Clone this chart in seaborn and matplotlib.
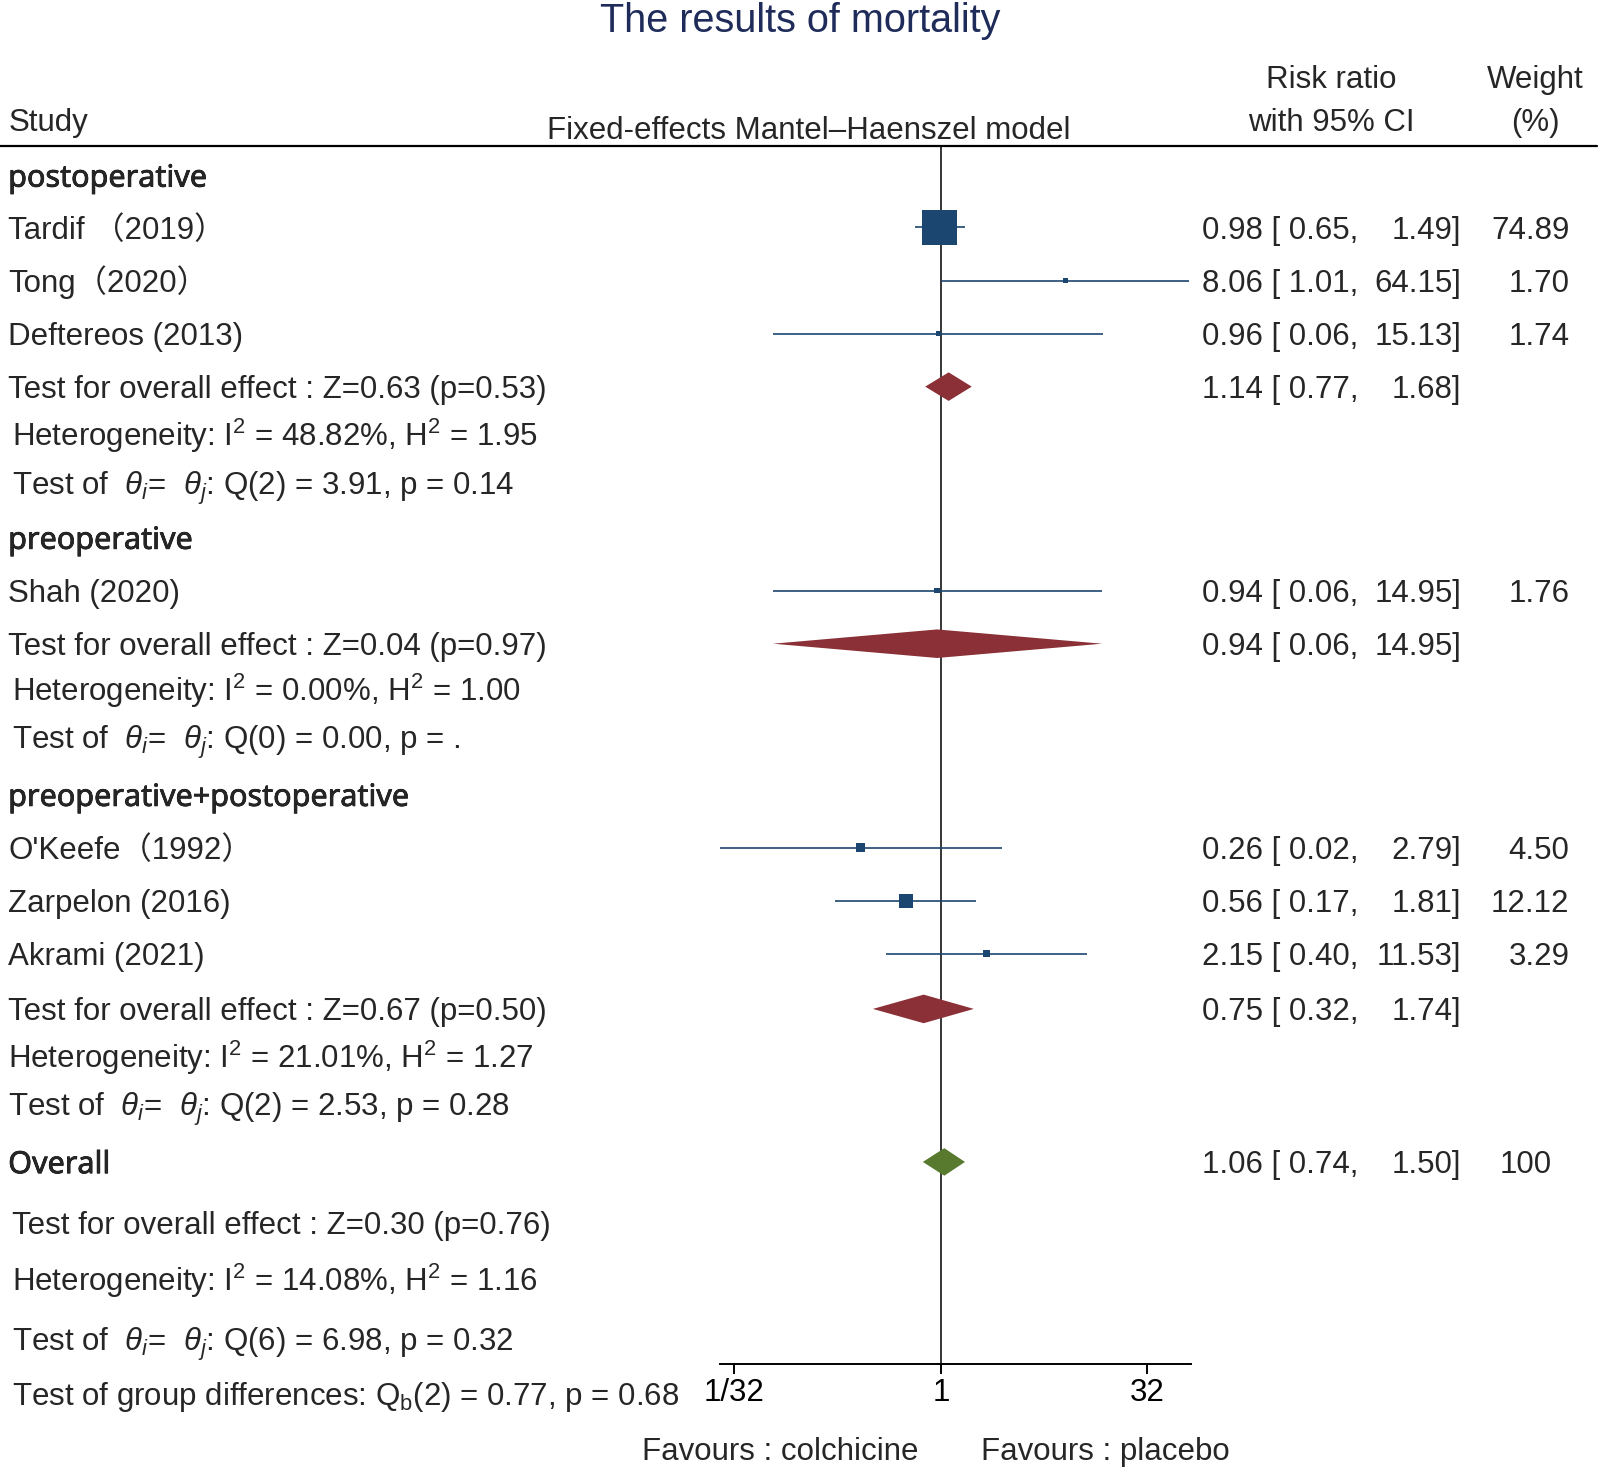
import numpy as np
import pandas as pd
import matplotlib
matplotlib.use("Agg")
import matplotlib.pyplot as plt
import matplotlib.patheffects as pe
import seaborn as sns
from matplotlib import transforms
from matplotlib.ticker import NullLocator, FixedLocator, FixedFormatter

sns.set_style("white")
plt.rcParams["font.family"] = ["Liberation Sans", "Noto Sans CJK SC", "DejaVu Sans"]
plt.rcParams["mathtext.fontset"] = "custom"
plt.rcParams["mathtext.rm"] = "Liberation Sans"
plt.rcParams["mathtext.it"] = "Liberation Sans:italic"
plt.rcParams["mathtext.default"] = "regular"

# ---------------- data ----------------
study_names = ["Tardif \uff082019\uff09", "Tong\uff082020\uff09", "Deftereos (2013)",
               "Shah (2020)",
               "O'Keefe\uff081992\uff09", "Zarpelon (2016)", "Akrami (2021)"]
study_rr = [0.98, 8.06, 0.96, 0.94, 0.26, 0.56, 2.15]
study_lo = [0.65, 1.01, 0.06, 0.06, 0.02, 0.17, 0.40]
study_hi = [1.49, 64.15, 15.13, 14.95, 2.79, 1.81, 11.53]
study_weight = [74.89, 1.70, 1.74, 1.76, 4.50, 12.12, 3.29]

group_names = ["postoperative", "preoperative", "preoperative+postoperative"]
group_rr = [1.14, 0.94, 0.75]
group_lo = [0.77, 0.06, 0.32]
group_hi = [1.68, 14.95, 1.74]
group_z = ["0.63", "0.04", "0.67"]
group_zp = ["0.53", "0.97", "0.50"]
group_i2 = ["48.82", "0.00", "21.01"]
group_h2 = ["1.95", "1.00", "1.27"]
group_qdf = ["2", "0", "2"]
group_q = ["3.91", "0.00", "2.53"]
group_qp = ["0.14", ".", "0.28"]

overall_rr, overall_lo, overall_hi = 1.06, 0.74, 1.50
overall_weight = "100"
overall_z, overall_zp = "0.30", "0.76"
overall_i2, overall_h2 = "14.08", "1.16"
overall_qdf, overall_q, overall_qp = "6", "6.98", "0.32"
qb_df, qb, qb_p = "2", "0.77", "0.68"

tick_values = [1 / 32, 1, 32]
tick_labels = ["1/32", "1", "32"]

# ---------------- layout (reference pixel grid 1568 x 1440) ----------------
W, H = 1568.0, 1440.0
X0, PPU = 922.0, 40.5          # pixel of RR=1, pixels per log2 unit
AX_L, AX_R = 706.0, 1167.0     # extent of the plotted x axis
study_y = [223, 275, 327, 579, 831, 883, 935]
head_y = [172, 527, 779]
gtest_y = [379, 631, 989]
ghet_y = [426, 676, 1036]
gth_y = [474, 723, 1083]
ghet_x = [12, 12, 8]
gth_x = [12, 12, 8]

FS = 22.5
NAVY = "#1b4670"
RED = "#8a3036"
GREEN = "#587a2e"

fig = plt.figure(figsize=(16, 14.69), dpi=100)
ax = fig.add_axes([0, 0, 1, 1])
ax.set_xscale("log", base=2)
XLIM = (2 ** (-X0 / PPU), 2 ** ((W - X0) / PPU))
RR_MIN, RR_MAX = 2 ** ((AX_L - X0) / PPU), 2 ** ((AX_R - X0) / PPU)
tr = transforms.blended_transform_factory(ax.transAxes, ax.transData)


def txt(x, y, s, ha="left", **kw):
    kw.setdefault("fontsize", FS)
    ax.text(x / W, y + 11, s, ha=ha, va="baseline", transform=tr, **kw)


def ci_text(y, est, lo, hi):
    txt(1178, y, f"{est:.2f} [ {lo:.2f},")
    txt(1432, y, f"{hi:.2f}]", ha="right")


# study CIs and squares
df = pd.DataFrame({"rr": study_rr, "lo": study_lo, "hi": study_hi,
                   "w": study_weight, "y": study_y})
ax.hlines(df["y"], np.clip(df["lo"], RR_MIN, RR_MAX),
          np.clip(df["hi"], RR_MIN, RR_MAX), color=NAVY, lw=1.2, zorder=2)
k = 8.34
sns.scatterplot(data=df, x="rr", y="y", size="w", marker="s", color=NAVY,
                sizes=(k * min(study_weight), k * max(study_weight)),
                size_norm=(min(study_weight), max(study_weight)),
                linewidth=0, legend=False, ax=ax, zorder=3)
ax.set_xlim(*XLIM)
ax.set_ylim(H, 0)
ax.axis("off")

# title and headers
ax.text(0.5, 31.5, "The results of mortality", ha="center", va="baseline",
        transform=tr, fontsize=28.5, color="#1f2c5a")
txt(8, 117, "Study")
txt(793, 125, "Fixed-effects Mantel\u2013Haenszel model", ha="center")
txt(1305, 75, "Risk ratio", ha="center")
txt(1305, 117, "with 95% CI", ha="center")
txt(1505, 75, "Weight", ha="center")
txt(1505, 117, "(%)", ha="center")
ax.axhline(143, xmin=0, xmax=1565 / W, color="black", lw=1.6)

# reference line at RR = 1
ax.vlines(1, 143, 1337, color="black", lw=1.1, zorder=1)

for name, y, rr, lo, hi, w in zip(study_names, study_y, study_rr, study_lo,
                                  study_hi, study_weight):
    txt(8, y, name)
    ci_text(y, rr, lo, hi)
    txt(1538, y, f"{w:.2f}", ha="right")


def diamond(y, est, lo, hi, color, h=14):
    ax.fill([lo, est, hi, est], [y, y - h, y, y + h], color=color,
            lw=0, zorder=3)


bold = dict(family=["Noto Sans", "DejaVu Sans"], fontsize=22,
            path_effects=[pe.withStroke(linewidth=0.5, foreground="black")])
for i, g in enumerate(group_names):
    txt(8, head_y[i], g, **bold)
    diamond(gtest_y[i], group_rr[i], group_lo[i], group_hi[i], RED)
    txt(8, gtest_y[i], f"Test for overall effect : Z={group_z[i]} (p={group_zp[i]})")
    ci_text(gtest_y[i], group_rr[i], group_lo[i], group_hi[i])
    txt(ghet_x[i], ghet_y[i],
        f"Heterogeneity: I$^2$ = {group_i2[i]}%, H$^2$ = {group_h2[i]}")
    txt(gth_x[i], gth_y[i],
        r"Test of  $\mathit{\theta_i}$=  $\mathit{\theta_j}$: "
        f"Q({group_qdf[i]}) = {group_q[i]}, p = {group_qp[i]}")

# overall
txt(8, 1139, "Overall", **bold)
diamond(1139, overall_rr, overall_lo, overall_hi, GREEN, h=13.5)
ci_text(1139, overall_rr, overall_lo, overall_hi)
txt(1521, 1139, overall_weight, ha="right")
txt(12, 1199, f"Test for overall effect : Z={overall_z} (p={overall_zp})")
txt(12, 1255, f"Heterogeneity: I$^2$ = {overall_i2}%, H$^2$ = {overall_h2}")
txt(12, 1313, r"Test of  $\mathit{\theta_i}$=  $\mathit{\theta_j}$: "
    f"Q({overall_qdf}) = {overall_q}, p = {overall_qp}")
txt(12, 1366, f"Test of group differences: Q$_b$({qb_df}) = {qb}, p = {qb_p}")

# x axis
axx = fig.add_axes([AX_L / W, 1 - 1337 / H, (AX_R - AX_L) / W, 1e-4])
axx.set_xscale("log", base=2)
axx.set_xlim(RR_MIN, RR_MAX)
axx.patch.set_visible(False)
for s in ["top", "left", "right"]:
    axx.spines[s].set_visible(False)
axx.spines["bottom"].set_linewidth(1.4)
axx.spines["bottom"].set_color("black")
axx.set_yticks([])
axx.xaxis.set_major_locator(FixedLocator(tick_values))
axx.xaxis.set_major_formatter(FixedFormatter(tick_labels))
axx.xaxis.set_minor_locator(NullLocator())
axx.tick_params(axis="x", direction="out", length=7.3, width=1.4,
                pad=3, labelsize=FS, colors="black", bottom=True)

txt(765, 1420, "Favours : colchicine", ha="center")
txt(1083, 1420, "Favours : placebo", ha="center")

fig.savefig("out.png", dpi=100, facecolor="white")
